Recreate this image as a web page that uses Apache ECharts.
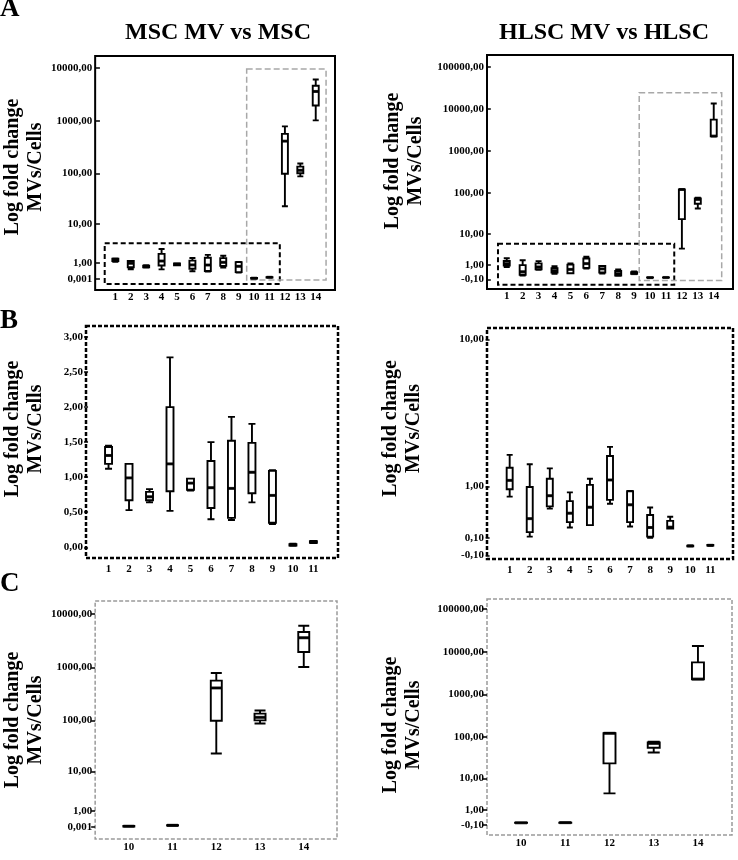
<!DOCTYPE html>
<html>
<head>
<meta charset="utf-8">
<script src="https://cdn.jsdelivr.net/npm/echarts@6/dist/echarts.min.js"></script>
<style>
html,body{margin:0;padding:0;background:#fff;}
#chart{width:738px;height:860px;}
</style>
</head>
<body>
<div id="chart"></div>
<script>
// ---------------- data ----------------
const categories = [1, 2, 3, 4, 5, 6, 7, 8, 9, 10, 11, 12, 13, 14];

// MSC MV vs MSC (fold change)
const mscMin = [1.12, 0.53, 0.64, 0.52, 0.81, 0.40, 0.39, 0.64, 0.33, 0.020, 0.060, 23, 87, 1014];
const mscQ1  = [1.19, 0.67, 0.67, 0.80, 0.82, 0.56, 0.42, 0.77, 0.35, 0.025, 0.065, 98, 100, 1940];
const mscMed = [1.31, 0.99, 0.72, 1.19, 0.915, 0.85, 0.84, 1.07, 0.74, 0.035, 0.077, 409, 114, 3590];
const mscQ3  = [1.43, 1.19, 0.79, 2.00, 0.98, 1.23, 1.52, 1.49, 1.09, 0.045, 0.085, 562, 134, 4600];
const mscMax = [1.45, 1.19, 0.83, 2.71, 0.98, 1.50, 1.86, 1.76, 1.10, 0.050, 0.090, 782, 154, 6030];

// HLSC MV vs HLSC (fold change)
const hlscMin = [0.78, 0.12, 0.55, 0.245, 0.28, 0.64, 0.26, 0.105, 0.23, 0.000, 0.008, 3.9, 43, 2250];
const hlscQ1  = [0.94, 0.18, 0.59, 0.325, 0.28, 0.715, 0.325, 0.12, 0.23, 0.002, 0.010, 23.6, 56, 2250];
const hlscMed = [1.15, 0.38, 0.80, 0.47, 0.575, 1.16, 0.62, 0.245, 0.25, 0.005, 0.013, 123, 71, 2290];
const hlscQ3  = [1.49, 0.99, 1.19, 0.69, 1.04, 1.85, 0.895, 0.44, 0.345, 0.008, 0.016, 123, 75, 5630];
const hlscMax = [1.89, 1.59, 1.47, 0.87, 1.19, 2.17, 0.90, 0.57, 0.41, 0.010, 0.018, 125, 78, 13600];

// tick values and labels
const mscLogTicks = [0.001, 1, 10, 100, 1000, 10000];
const mscLogLabels = ['0,001', '1,00', '10,00', '100,00', '1000,00', '10000,00'];
const hlscLogTicks = [-0.1, 1, 10, 100, 1000, 10000, 100000];
const hlscLogLabels = ['-0,10', '1,00', '10,00', '100,00', '1000,00', '10000,00', '100000,00'];
const mscLinTicks = [0, 0.5, 1, 1.5, 2, 2.5, 3];
const mscLinLabels = ['0,00', '0,50', '1,00', '1,50', '2,00', '2,50', '3,00'];
const hlscZoomTicks = [-0.1, 0.1, 1, 10];
const hlscZoomLabels = ['-0,10', '0,10', '1,00', '10,00'];

const panelLetters = ['A', 'B', 'C'];
const columnTitles = ['MSC MV vs MSC', 'HLSC MV vs HLSC'];
const yName = 'Log fold change\nMVs/Cells';

// ---------------- helpers ----------------
const L1P = v => Math.log10(1 + v);   // log(1+x) scale used by the original plots
const LIN = v => v;
const SERIF = '"Liberation Serif", "DejaVu Serif", serif';

const grids = [], xAxes = [], yAxes = [], series = [];

function addPanel(p) {
  const gi = grids.length;
  grids.push({
    left: p.box[0], top: p.box[1], width: p.box[2], height: p.box[3],
    show: true, backgroundColor: 'transparent',
    borderColor: p.border.color, borderWidth: p.border.width, borderType: p.border.type
  });
  xAxes.push({
    type: 'value', gridIndex: gi, min: p.xRange[0], max: p.xRange[1],
    splitLine: { show: false }, axisLine: { show: false }, axisTick: { show: false },
    axisLabel: {
      customValues: p.cats, margin: p.xMargin,
      formatter: v => String(Math.round(v)),
      fontFamily: SERIF, fontWeight: 'bold', fontSize: 11, color: '#000'
    }
  });
  const tv = p.ticks.map(p.tf);
  yAxes.push({
    type: 'value', gridIndex: gi, min: p.yRange[0], max: p.yRange[1],
    splitLine: { show: false }, axisLine: { show: false },
    axisTick: { show: true, customValues: tv, length: 4, lineStyle: { color: '#000', width: 1.5 } },
    axisLabel: {
      customValues: tv, margin: 3,
      formatter: v => { for (let i = 0; i < tv.length; i++) if (Math.abs(tv[i] - v) < 1e-6) return p.labels[i]; return ''; },
      fontFamily: SERIF, fontWeight: 'bold', fontSize: 11, color: '#000'
    },
    name: yName, nameLocation: 'middle', nameRotate: 90, nameGap: p.nameGap,
    nameTextStyle: { fontFamily: SERIF, fontWeight: 'bold', fontSize: 20, lineHeight: 23, color: '#000', padding: p.namePad || 0 }
  });
  const idx = p.cats.map(c => categories.indexOf(c));
  series.push({
    type: 'boxplot', xAxisIndex: gi, yAxisIndex: gi,
    boxWidth: [p.bw, p.bw],
    encode: { x: 0, y: [1, 2, 3, 4, 5] },
    itemStyle: { color: '#fff', borderColor: '#000', borderWidth: 1.9 },
    emphasis: { disabled: true },
    data: idx.map(i => [categories[i], p.tf(p.s.min[i]), p.tf(p.s.q1[i]), p.tf(p.s.med[i]), p.tf(p.s.q3[i]), p.tf(p.s.max[i])])
  });
  const med = {
    type: 'scatter', xAxisIndex: gi, yAxisIndex: gi, symbol: 'rect',
    symbolSize: [p.bw, 3], itemStyle: { color: '#000' }, z: 5,
    emphasis: { disabled: true },
    data: idx.map(i => [categories[i], p.tf(p.s.med[i])])
  };
  if (p.areas) {
    med.markArea = {
      silent: true,
      data: p.areas.map(a => [
        { xAxis: a.x[0], yAxis: p.tf(a.y[0]), itemStyle: { color: 'transparent', borderColor: a.color, borderWidth: a.width, borderType: a.dash } },
        { xAxis: a.x[1], yAxis: p.tf(a.y[1]) }
      ])
    };
  }
  series.push(med);
}

const msc = { min: mscMin, q1: mscQ1, med: mscMed, q3: mscQ3, max: mscMax };
const hlsc = { min: hlscMin, q1: hlscQ1, med: hlscMed, q3: hlscQ3, max: hlscMax };
const allCats = categories;
const lowCats = categories.slice(0, 11);
const highCats = categories.slice(9);

const solid = { color: '#000', width: 2, type: 'solid' };
const blackDash = { color: '#000', width: 2.5, type: [4, 2] };
const greyDash = { color: '#9a9a9a', width: 1.5, type: [4, 2] };

// A left
addPanel({ box: [86, 56, 249, 234], border: solid, s: msc, cats: allCats, tf: L1P,
  xRange: [-0.31, 15.25], yRange: [-0.2085, 4.227], ticks: mscLogTicks, labels: mscLogLabels,
  bw: 6, xMargin: 2, nameGap: 48, namePad: [0, 0, 0, 12],
  areas: [
    { x: [0.31, 11.67], y: [3.75, -0.196], color: '#000', width: 2, dash: [5, 3] },
    { x: [9.52, 14.67], y: [9550, -0.043], color: '#a8a8a8', width: 1.5, dash: [6, 3] }
  ] });
// A right
addPanel({ box: [487, 55, 246, 234], border: solid, s: hlsc, cats: allCats, tf: L1P,
  xRange: [-0.24, 15.21], yRange: [-0.268, 5.284], ticks: hlscLogTicks, labels: hlscLogLabels,
  bw: 6, xMargin: 2, nameGap: 60, namePad: [0, 0, 0, 22],
  areas: [
    { x: [0.45, 11.52], y: [5.4, -0.318], color: '#000', width: 2, dash: [5, 3] },
    { x: [9.32, 14.5], y: [24500, -0.137], color: '#a8a8a8', width: 1.5, dash: [6, 3] }
  ] });
// B left (linear)
addPanel({ box: [81, 326, 257, 232], border: blackDash, s: msc, cats: lowCats, tf: LIN,
  xRange: [-0.1, 12.2], yRange: [-0.153, 3.157], ticks: mscLinTicks, labels: mscLinLabels,
  bw: 7, xMargin: 6, nameGap: 39, namePad: [0, 0, 0, 26] });
// B right
addPanel({ box: [487, 328, 246, 231], border: blackDash, s: hlsc, cats: lowCats, tf: L1P,
  xRange: [-0.13, 12.13], yRange: [-0.0633, 1.0994], ticks: hlscZoomTicks, labels: hlscZoomLabels,
  bw: 6, xMargin: 6, nameGap: 62, namePad: [0, 0, 0, 30] });
// C left
addPanel({ box: [81, 601, 256, 238], border: greyDash, s: msc, cats: highCats, tf: L1P,
  xRange: [9.23, 14.76], yRange: [-0.225, 4.246], ticks: mscLogTicks, labels: mscLogLabels,
  bw: 11, xMargin: 3, nameGap: 43 });
// C right
addPanel({ box: [487, 599, 245, 236], border: greyDash, s: hlsc, cats: highCats, tf: L1P,
  xRange: [9.23, 14.77], yRange: [-0.283, 5.231], ticks: hlscLogTicks, labels: hlscLogLabels,
  bw: 12, xMargin: 3, nameGap: 62, namePad: [0, 16, 0, 0] });

const letterPos = [[0, -4], [0, 308], [0, 571]];
const graphics = panelLetters.map((l, i) => ({
  type: 'text', x: letterPos[i][0], y: letterPos[i][1],
  style: { text: l, font: 'bold 27px ' + SERIF, fill: '#000', align: 'left', verticalAlign: 'top' }
}));
const titleX = [218, 604];
columnTitles.forEach((t, i) => graphics.push({
  type: 'text', x: titleX[i], y: 21,
  style: { text: t, font: 'bold 24px ' + SERIF, fill: '#000', align: 'center', verticalAlign: 'top' }
}));

const chart = echarts.init(document.getElementById('chart'), null, { renderer: 'canvas' });
chart.setOption({
  animation: false,
  backgroundColor: '#fff',
  grid: grids, xAxis: xAxes, yAxis: yAxes, series: series,
  graphic: graphics
});
</script>
</body>
</html>
